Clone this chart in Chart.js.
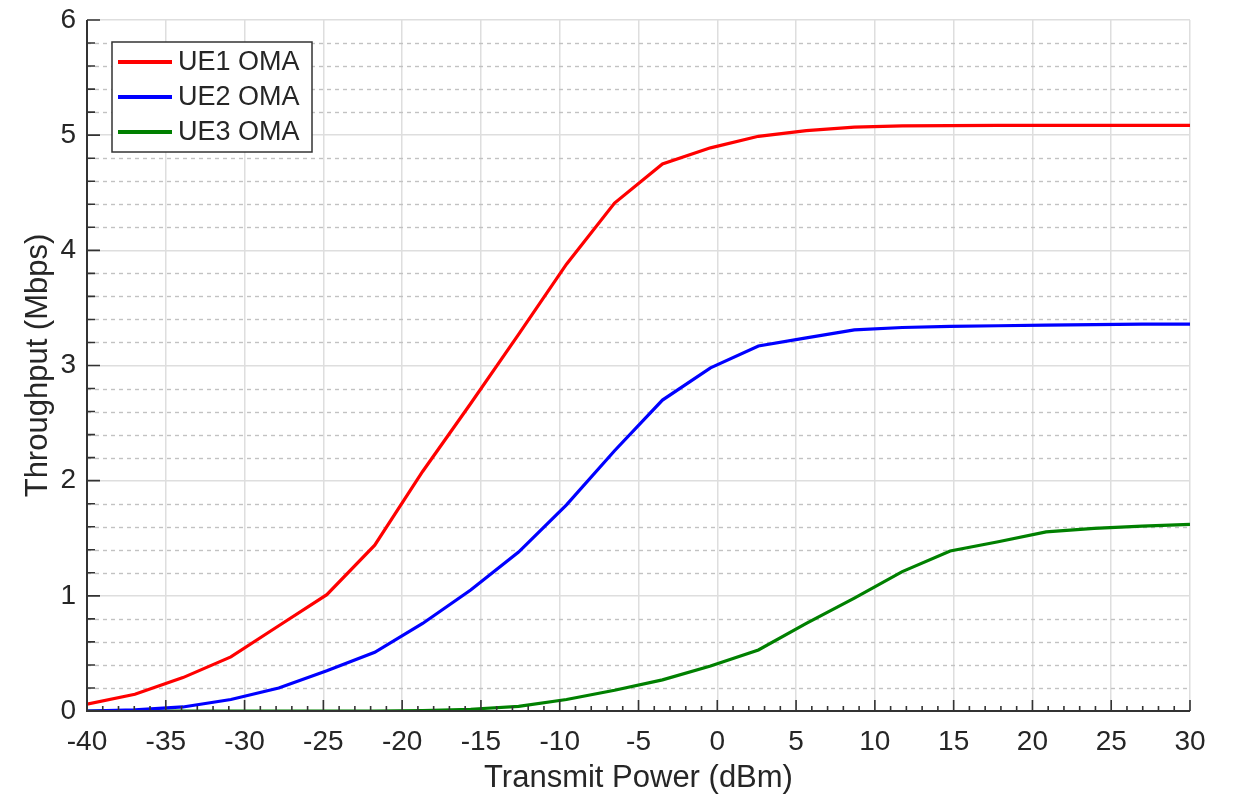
<!DOCTYPE html>
<html>
<head>
<meta charset="utf-8">
<script src="https://cdn.jsdelivr.net/npm/chart.js@4"></script>
<style>
  body { margin: 0; background: #fff; }
  #chart { display: block; }
</style>
</head>
<body>
<canvas id="chart" width="1235" height="801"></canvas>
<script>
const power = [-40, -36.96, -33.91, -30.87, -27.83, -24.78, -21.74, -18.70, -15.65, -12.61, -9.57, -6.52,
  -3.48, -0.43, 2.61, 5.65, 8.70, 11.74, 14.78, 17.83, 20.87, 23.91, 26.96, 30];
const ue1 = [0.06, 0.145, 0.29, 0.47, 0.74, 1.01, 1.44, 2.08, 2.67, 3.27, 3.88, 4.41,
  4.75, 4.89, 4.99, 5.04, 5.07, 5.08, 5.082, 5.085, 5.085, 5.085, 5.085, 5.085];
const ue2 = [0.0, 0.01, 0.035, 0.1, 0.2, 0.35, 0.51, 0.76, 1.05, 1.38, 1.79, 2.26,
  2.7, 2.98, 3.17, 3.24, 3.31, 3.33, 3.34, 3.345, 3.35, 3.355, 3.36, 3.36];
const ue3 = [0, 0, 0, 0, 0, 0, 0, 0.003, 0.015, 0.04, 0.1, 0.18,
  0.27, 0.39, 0.53, 0.76, 0.98, 1.21, 1.39, 1.47, 1.555, 1.585, 1.605, 1.62];
const seriesNames = ["UE1 OMA", "UE2 OMA", "UE3 OMA"];
const seriesColors = ["#ff0000", "#0000ff", "#008000"];

const FONT = "'Liberation Sans', Arial, sans-serif";
const TEXT = "#262626";

function toPoints(ys) {
  return power.map((x, i) => ({ x, y: ys[i] }));
}

// dashed minor grid + axis lines and inward ticks
const axesPlugin = {
  id: "axesPlugin",
  beforeDatasetsDraw(chart) {
    const { ctx, chartArea: a, scales: { x, y } } = chart;
    ctx.save();
    ctx.strokeStyle = "#c2c2c2";
    ctx.lineWidth = 1.4;
    ctx.setLineDash([4, 4]);
    for (let i = 1; i < 30; i++) {
      if (i % 5 === 0) continue;
      const py = Math.round(y.getPixelForValue(i / 5)) + 0.5;
      ctx.beginPath();
      ctx.moveTo(a.left, py);
      ctx.lineTo(a.right, py);
      ctx.stroke();
    }
    ctx.restore();
  },
  afterDatasetsDraw(chart) {
    const { ctx, chartArea: a, scales: { x, y } } = chart;
    ctx.save();
    ctx.strokeStyle = "#333";
    ctx.lineWidth = 2;
    ctx.beginPath();
    ctx.moveTo(a.left, a.top);
    ctx.lineTo(a.left, a.bottom);
    ctx.lineTo(a.right, a.bottom);
    ctx.stroke();

    ctx.lineWidth = 1.6;
    ctx.beginPath();
    for (let i = 0; i <= 30; i++) {
      const py = y.getPixelForValue(i / 5);
      ctx.moveTo(a.left, py);
      ctx.lineTo(a.left + (i % 5 === 0 ? 13 : 8), py);
    }
    for (let v = -40; v <= 30; v++) {
      const px = x.getPixelForValue(v);
      ctx.moveTo(px, a.bottom);
      ctx.lineTo(px, a.bottom - (v % 5 === 0 ? 11 : 5));
    }
    ctx.stroke();
    ctx.restore();
  },
  afterDraw(chart) {
    const { ctx, chartArea: a } = chart;
    const bx = a.left + 25, by = a.top + 22, bw = 200, bh = 110;
    ctx.save();
    ctx.fillStyle = "#fff";
    ctx.fillRect(bx, by, bw, bh);
    ctx.strokeStyle = "#333";
    ctx.lineWidth = 1.5;
    ctx.strokeRect(bx, by, bw, bh);
    ctx.font = "27px " + FONT;
    ctx.textBaseline = "middle";
    ctx.fillStyle = TEXT;
    chart.data.datasets.forEach((ds, i) => {
      const ry = by + 20 + i * 35;
      ctx.strokeStyle = ds.borderColor;
      ctx.lineWidth = 4;
      ctx.beginPath();
      ctx.moveTo(bx + 6, ry);
      ctx.lineTo(bx + 60, ry);
      ctx.stroke();
      ctx.fillText(ds.label, bx + 66, ry + 1);
    });
    ctx.restore();
  },
};

const datasets = [ue1, ue2, ue3].map((ys, i) => ({
  label: seriesNames[i],
  data: toPoints(ys),
  borderColor: seriesColors[i],
  backgroundColor: seriesColors[i],
  borderWidth: 3.2,
  pointRadius: 0,
  tension: 0,
  fill: false,
}));

new Chart(document.getElementById("chart"), {
  type: "line",
  data: { datasets },
  options: {
    responsive: false,
    animation: false,
    layout: { padding: { top: 20, right: 45, left: 0, bottom: 0 } },
    plugins: { legend: { display: false }, tooltip: { enabled: false } },
    scales: {
      x: {
        type: "linear",
        min: -40,
        max: 30,
        afterFit(scale) {
          scale.height = 90;
          scale.paddingLeft = 0;
          scale.paddingRight = 0;
        },
        ticks: { stepSize: 5, padding: 14, color: TEXT, font: { family: FONT, size: 28 } },
        grid: { color: "#dedede", lineWidth: 1.5, drawTicks: false },
        border: { display: false },
        title: {
          display: true,
          text: "Transmit Power (dBm)",
          color: TEXT,
          font: { family: FONT, size: 31 },
          padding: { top: 0, bottom: 4 },
        },
      },
      y: {
        min: 0,
        max: 6,
        afterFit(scale) {
          scale.width = 87;
          scale.paddingTop = 0;
          scale.paddingBottom = 0;
        },
        ticks: { stepSize: 1, padding: 11, color: TEXT, font: { family: FONT, size: 28 } },
        grid: { color: "#dedede", lineWidth: 1.5, drawTicks: false },
        border: { display: false },
        title: {
          display: true,
          text: "Throughput (Mbps)",
          color: TEXT,
          font: { family: FONT, size: 31 },
          padding: { top: 20, bottom: 0 },
        },
      },
    },
  },
  plugins: [axesPlugin],
});
</script>
</body>
</html>
